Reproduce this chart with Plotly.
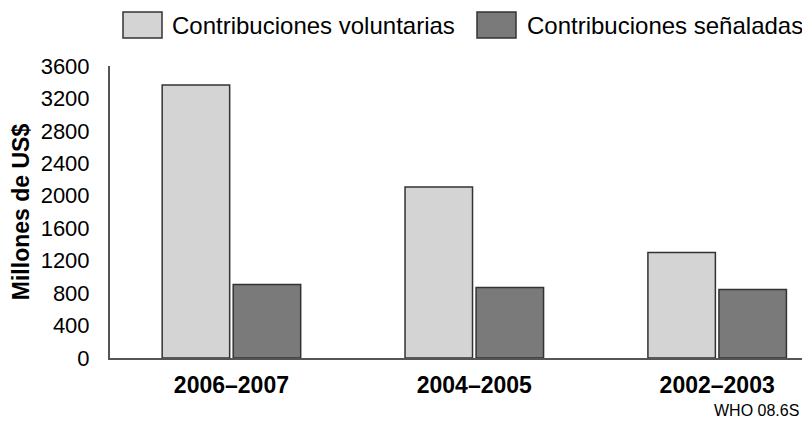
import plotly.graph_objects as go

categories = ["2006–2007", "2004–2005", "2002–2003"]
series_names = ["Contribuciones voluntarias", "Contribuciones señaladas"]
voluntarias = [3366, 2107, 1302]
senaladas = [905, 868, 843]
y_ticks = [0, 400, 800, 1200, 1600, 2000, 2400, 2800, 3200, 3600]
y_title = "Millones de US$"
source_note = "WHO 08.6S"

colors = ["#d4d4d4", "#7a7a7a"]
outline = "#333333"
font_family = "Liberation Sans, Arial, sans-serif"

# page body has an 8px margin, so layout is built in (target - 8) pixels
OFF = 8
W, H = 810 - OFF, 421 - OFF
PL, PR = 110 - OFF, 808 - OFF       # plot area left/right
PT, PB = 66 - OFF, 358.5 - OFF      # plot area top/bottom
PW, PH = PR - PL, PB - PT


def px(x):
    return (x - OFF - PL) / PW


def py(y):
    return (PB - (y - OFF)) / PH


fig = go.Figure()
for name, vals, col in zip(series_names, [voluntarias, senaladas], colors):
    fig.add_trace(go.Bar(
        x=categories, y=vals, name=name,
        marker=dict(color=col, line=dict(color=outline, width=1.5)),
        showlegend=False,
    ))

fig.update_layout(
    width=W, height=H,
    margin=dict(l=PL, r=W - PR, t=PT, b=H - PB, pad=0),
    paper_bgcolor="white", plot_bgcolor="white",
    barmode="group", bargap=0.415, bargroupgap=0.05,
    font=dict(family=font_family, color="black"),
)
fig.update_xaxes(
    type="category", range=[-0.5, 2.374],
    showline=True, linecolor="#555555", linewidth=2,
    showgrid=False, ticks="", zeroline=False,
    tickfont=dict(size=23, weight="bold"),
    ticklabelstandoff=5,
)
fig.update_yaxes(
    range=[0, 3600], tickvals=y_ticks,
    showline=True, linecolor="#555555", linewidth=2,
    showgrid=False, ticks="", zeroline=False,
    tickfont=dict(size=22),
    ticklabelstandoff=14,
    title=dict(text=y_title, font=dict(size=23, weight="bold"), standoff=8),
)

# Legend drawn as boxes + text
legend_items = [(123, 162, 170), (477, 516, 525)]
for (x0, x1, tx), name, col in zip(legend_items, series_names, colors):
    fig.add_shape(type="rect", xref="paper", yref="paper",
                  x0=px(x0), x1=px(x1), y0=py(38), y1=py(12),
                  fillcolor=col, line=dict(color=outline, width=1.5))
    fig.add_annotation(xref="paper", yref="paper",
                       x=px(tx), y=py(25),
                       text=name, showarrow=False, xanchor="left", yanchor="middle",
                       font=dict(size=24))

fig.add_annotation(xref="paper", yref="paper",
                   x=px(801), y=py(411),
                   text=source_note, showarrow=False, xanchor="right", yanchor="middle",
                   font=dict(size=16))

fig.write_html("out.html")
